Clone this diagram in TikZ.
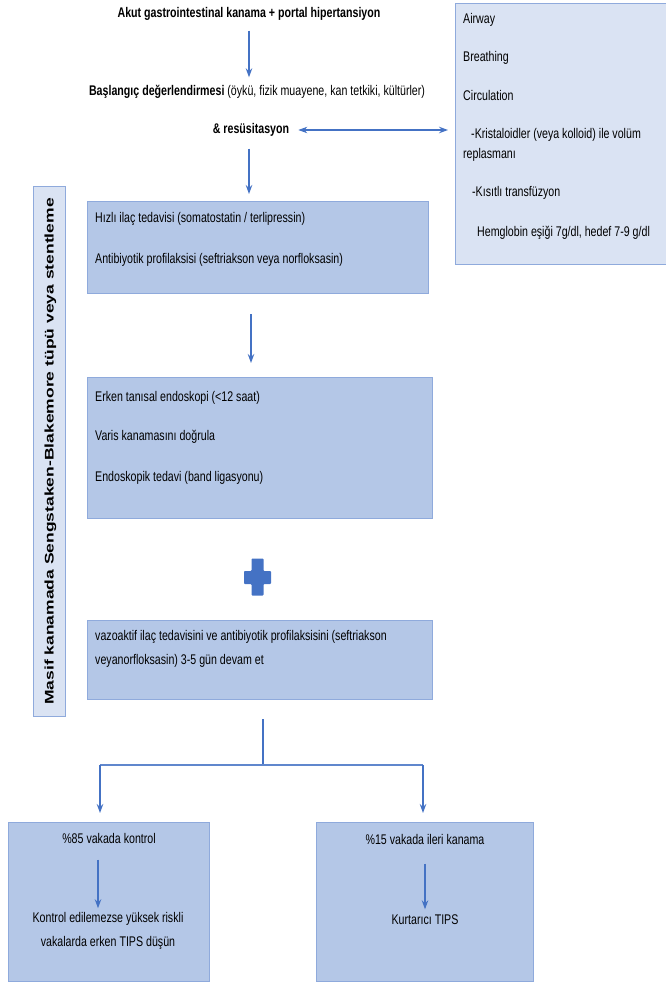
\documentclass[tikz,border=0pt]{standalone}
\usepackage{fontspec}
\setmainfont{Liberation Sans}[FakeStretch=0.76]
\newfontfamily\sidefont{Liberation Sans}[FakeStretch=1.4]
\usetikzlibrary{arrows.meta}
\definecolor{boxfill}{HTML}{B4C7E7}
\definecolor{boxline}{HTML}{8FAADC}
\definecolor{notefill}{HTML}{DAE3F3}
\definecolor{flow}{HTML}{4472C4}
\begin{document}
\begin{tikzpicture}[x=1pt,y=-1pt,
  stepbox/.style={draw=boxline, fill=boxfill, line width=1pt, inner sep=0pt, anchor=north west},
  notebox/.style={draw=boxline, fill=notefill, line width=1pt, inner sep=0pt, anchor=north west},
  txt/.style={inner sep=0pt, text height=10pt, text depth=3pt, font=\fontsize{14}{16}\selectfont},
  lline/.style={txt, anchor=west},
  arr/.style={draw=flow, line width=1.1pt, -{Stealth[length=9pt,width=6.5pt]}},
  twoarr/.style={draw=flow, line width=1.1pt, {Stealth[length=9pt,width=6.5pt]}-{Stealth[length=9pt,width=6.5pt]}},
  bar/.style={draw=flow, line width=1.1pt},
  thickbar/.style={draw=flow!85, line width=2.2pt}
]
\useasboundingbox (0,0) rectangle (665,982);

% header lines
\node[txt, font=\fontsize{14}{16}\selectfont\bfseries] (title) at (249,14)
  {Akut gastrointestinal kanama + portal hipertansiyon};
\node[txt] (basl) at (257,92)
  {\textbf{Başlangıç değerlendirmesi} (öykü, fizik muayene, kan tetkiki, kültürler)};
\node[txt, font=\fontsize{14}{16}\selectfont\bfseries] (res) at (251,130) {\& resüsitasyon};

% ABC note box
\node[notebox, minimum width=230pt, minimum height=261pt] (abc) at (455,3) {};
\node[lline] (air) at (463,20) {Airway};
\node[lline] (bre) at (463,58) {Breathing};
\node[lline] (cir) at (463,97) {Circulation};
\node[lline] (kri) at (471,135) {-Kristaloidler (veya kolloid) ile volüm};
\node[lline] (rep) at (463,155) {replasmanı};
\node[lline] (kis) at (472,193) {-Kısıtlı transfüzyon};
\node[lline] (hem) at (477,233) {Hemglobin eşiği 7g/dl, hedef 7-9 g/dl};

% side note
\node[notebox, minimum width=32pt, minimum height=530pt] (side) at (33,186) {};
\node[rotate=90, inner sep=0pt, font=\sidefont\bfseries\fontsize{12.5}{14}\selectfont] (sidetxt) at ([xshift=1pt]side.center)
  {Masif kanamada Sengstaken-Blakemore tüpü veya stentleme};

% step 1
\node[stepbox, minimum width=341pt, minimum height=92pt] (b1) at (87,201) {};
\node[lline] (b1a) at (95,219) {Hızlı ilaç tedavisi (somatostatin / terlipressin)};
\node[lline] (b1b) at (95,260) {Antibiyotik profilaksisi (seftriakson veya norfloksasin)};

% step 2
\node[stepbox, minimum width=345pt, minimum height=141pt] (b2) at (87,377) {};
\node[lline] (b2a) at (95,398) {Erken tanısal endoskopi (<12 saat)};
\node[lline] (b2b) at (95,437) {Varis kanamasını doğrula};
\node[lline] (b2c) at (95,478) {Endoskopik tedavi (band ligasyonu)};

% plus sign
\fill[flow, rounded corners=0.8pt]
  (251.5,558.5) -- (263.5,558.5) -- (263.5,571) -- (271,571) -- (271,584)
  -- (263.5,584) -- (263.5,595.5) -- (251.5,595.5) -- (251.5,584)
  -- (244,584) -- (244,571) -- (251.5,571) -- cycle;

% step 3
\node[stepbox, minimum width=345pt, minimum height=79pt] (b3) at (87,620) {};
\node[lline] (b3a) at (95,637) {vazoaktif ilaç tedavisini ve antibiyotik profilaksisini (seftriakson};
\node[lline] (b3b) at (95,661) {veyanorfloksasin) 3-5 gün devam et};

% outcomes
\node[stepbox, minimum width=201pt, minimum height=159pt] (b4) at (8,822) {};
\node[txt] (t85) at (109,840) {\%85 vakada kontrol};
\node[txt, align=center, text height=, text depth=, font=\fontsize{14}{24}\selectfont] (k85) at (108,931)
  {Kontrol edilemezse yüksek riskli\\vakalarda erken TIPS düşün};

\node[stepbox, minimum width=217pt, minimum height=159pt] (b5) at (316,822) {};
\node[txt] (t15) at (425,841) {\%15 vakada ileri kanama};
\node[txt] (tips) at (425,921) {Kurtarıcı TIPS};

% branch points
\coordinate (split) at (263,765);
\coordinate (splitL) at (100,765);
\coordinate (splitR) at (423,765);

% connectors
\draw[arr, shorten <=10pt, shorten >=8pt] (title.south) -- (title.south |- basl.north);
\draw[twoarr, shorten <=9pt, shorten >=7pt] (res.east) -- (abc.west |- res.east);
\draw[arr, shorten <=12pt, shorten >=7pt] (title.south |- res.south) -- (title.south |- b1.north);
\draw[arr, shorten <=20pt, shorten >=14pt] (res.south |- b1.south) -- (res.south |- b2.north);
\draw[bar, shorten <=19pt] (split |- b3.south) -- (split);
\draw[thickbar] (splitL) -- (splitR);
\draw[arr, shorten >=9pt] (splitL) -- (splitL |- b4.north);
\draw[arr, shorten >=9pt] (splitR) -- (splitR |- b5.north);
\draw[arr, shorten <=13pt, shorten >=4pt] ([xshift=-11pt]t85.south) -- ([xshift=-11pt]t85.south |- k85.north);
\draw[arr, shorten <=16pt, shorten >=5pt] (t15.south) -- (t15.south |- tips.north);
\end{tikzpicture}
\end{document}
